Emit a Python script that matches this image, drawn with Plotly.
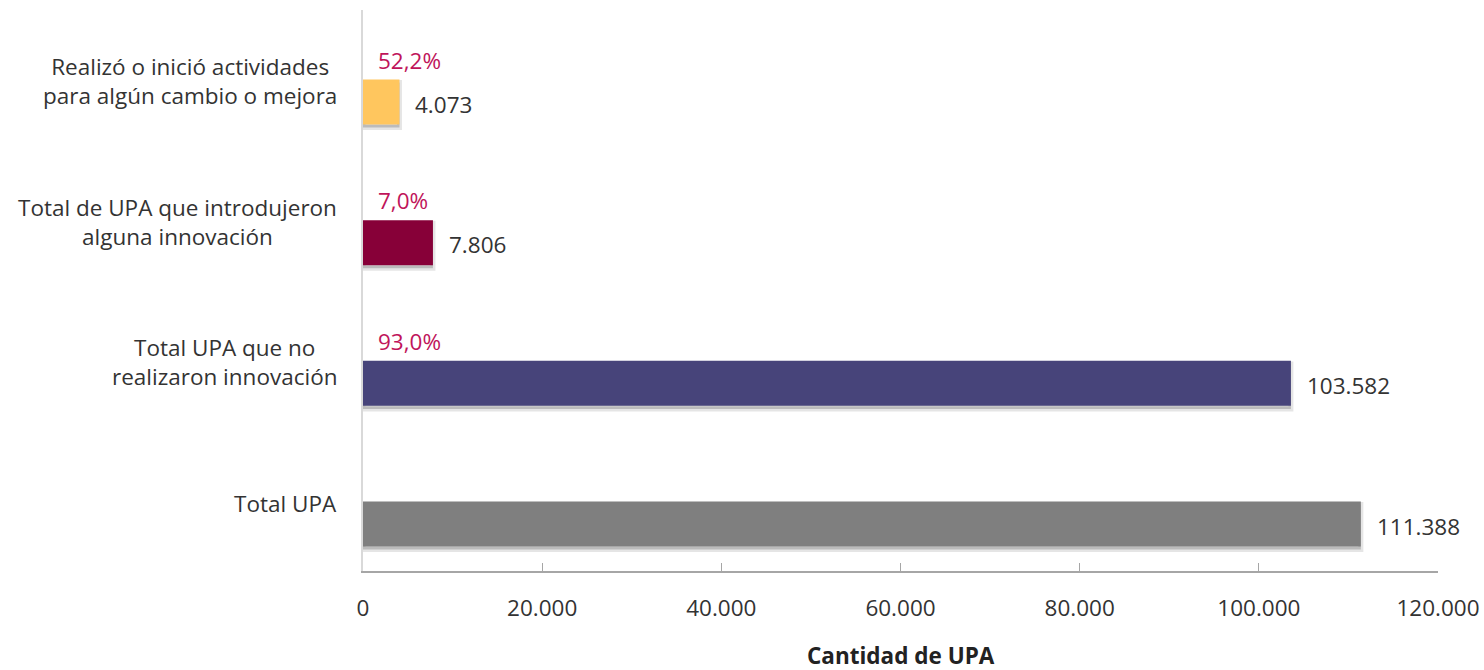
import plotly.graph_objects as go

categories = ["Total UPA", "Total UPA que no realizaron innovación",
              "Total de UPA que introdujeron alguna innovación",
              "Realizó o inició actividades para algún cambio o mejora"]
cat_labels = ["Total UPA", "Total UPA que no<br>realizaron innovación",
              "Total de UPA que introdujeron<br>alguna innovación",
              "Realizó o inició actividades<br>para algún cambio o mejora"]
values = [111388, 103582, 7806, 4073]
value_labels = ["111.388", "103.582", "7.806", "4.073"]
pct_labels = ["", "93,0%", "7,0%", "52,2%"]
colors = ["#7F7F7F", "#47447A", "#870038", "#FFC65E"]
tick_vals = [0, 20000, 40000, 60000, 80000, 100000, 120000]
tick_text = ["0", "20.000", "40.000", "60.000", "80.000", "100.000", "120.000"]
x_title = "Cantidad de UPA"

FONT = "Open Sans"
FS = 22.5
BW = 0.32
fig = go.Figure()
# soft shadow behind each bar
fig.add_trace(go.Bar(y=categories, x=values, orientation="h", width=BW,
                     offset=-BW / 2 - 0.022,
                     marker=dict(color="rgba(0,0,0,0.18)",
                                 line=dict(width=5, color="rgba(0,0,0,0.10)")),
                     hoverinfo="skip"))
fig.add_trace(go.Bar(y=categories, x=values, orientation="h", width=BW,
                     offset=-BW / 2,
                     marker=dict(color=colors, line=dict(width=0)),
                     hoverinfo="skip"))

ann = []
for c, lab, v, vl, p in zip(categories, cat_labels, values, value_labels, pct_labels):
    ann.append(dict(x=0, y=c, xref="x", yref="y", text=lab, showarrow=False,
                    xanchor="right", yanchor="middle", align="center",
                    xshift=-24, yshift=21,
                    font=dict(family=FONT, size=FS, color="#333333")))
    ann.append(dict(x=v, y=c, xref="x", yref="y", text=vl, showarrow=False,
                    xanchor="left", yanchor="middle", xshift=14, yshift=-2,
                    font=dict(family=FONT, size=FS, color="#333333")))
    if p:
        ann.append(dict(x=0, y=c, xref="x", yref="y", text=p, showarrow=False,
                        xanchor="left", yanchor="middle", xshift=13, yshift=42,
                        font=dict(family=FONT, size=FS, color="#C0145A")))
ann.append(dict(x=0.5, y=0, xref="paper", yref="paper", text="<b>" + x_title + "</b>",
                showarrow=False, xanchor="center", yanchor="middle", yshift=-84,
                font=dict(family=FONT, size=FS, color="#222222")))

fig.update_layout(
    width=1484, height=670,
    margin=dict(l=363, r=46, t=10, b=99),
    paper_bgcolor="white", plot_bgcolor="white",
    showlegend=False, barmode="overlay",
    annotations=ann,
    font=dict(family=FONT, size=FS, color="#333333"),
    xaxis=dict(range=[0, 120000], tickvals=tick_vals, ticktext=tick_text,
               automargin=False,
               showgrid=False, zeroline=False, showline=True,
               linecolor="#A6A6A6", linewidth=1.5,
               ticks="inside", ticklen=8, tickcolor="#A6A6A6",
               ticklabelstandoff=16, ticklabeloverflow="allow",
               tickfont=dict(family=FONT, size=FS, color="#333333")),
    yaxis=dict(categoryorder="array", categoryarray=categories,
               range=[-0.334, 3.654], automargin=False,
               showticklabels=False, showgrid=False, zeroline=False,
               showline=True, linecolor="#D9D9D9", linewidth=2, ticks=""),
)
fig.write_html("out.html", config={"displayModeBar": False},
               post_script="document.body.style.margin='0';"
                           "document.body.style.overflow='hidden';")
